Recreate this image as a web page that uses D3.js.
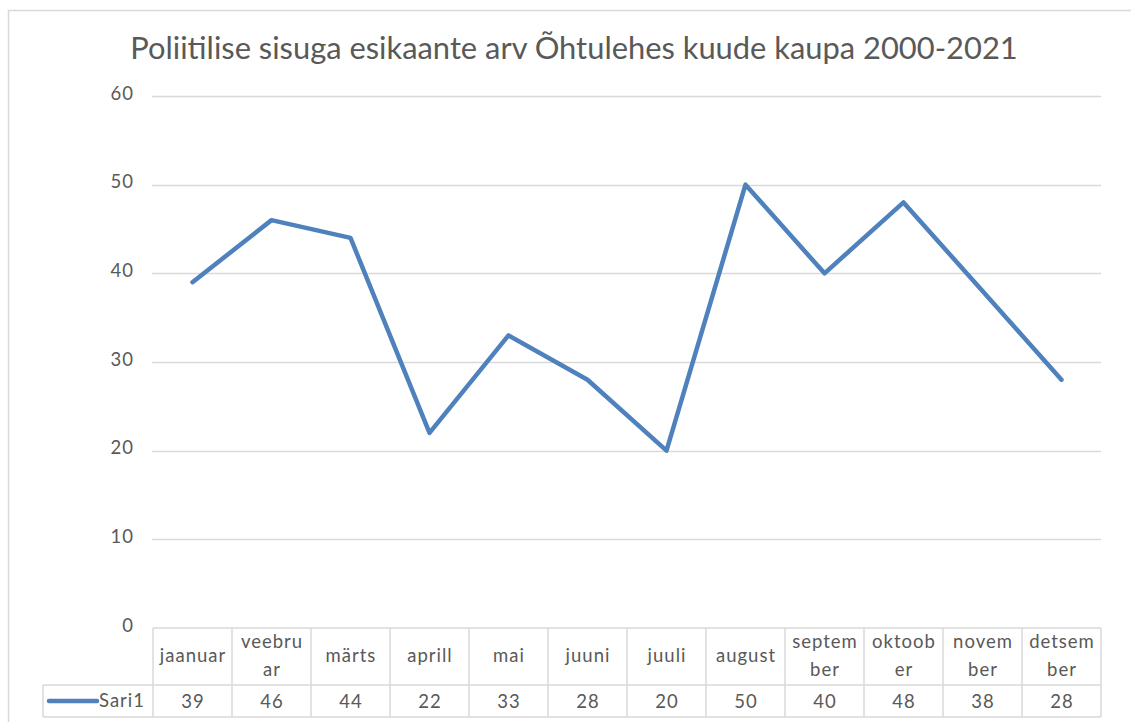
<!DOCTYPE html>
<html>
<head>
<meta charset="utf-8">
<script src="https://cdn.jsdelivr.net/npm/d3@7"></script>
<style>
  body { margin: 0; background: #fff; }
  svg text { font-family: Lato, "Open Sans", sans-serif; fill: #595959; }
  svg text.lbl { letter-spacing: 1px; }
</style>
</head>
<body>
<svg id="chart" width="1131" height="722"></svg>
<script>
// data
const months = ['jaanuar', 'veebruar', 'märts', 'aprill', 'mai', 'juuni',
                'juuli', 'august', 'september', 'oktoober', 'november', 'detsember'];
// Excel wraps the narrow cells mid-word
const monthLines = [['jaanuar'], ['veebru', 'ar'], ['märts'], ['aprill'], ['mai'], ['juuni'],
                    ['juuli'], ['august'], ['septem', 'ber'], ['oktoob', 'er'], ['novem', 'ber'], ['detsem', 'ber']];
const values = [39, 46, 44, 22, 33, 28, 20, 50, 40, 48, 38, 28];
const yTicks = [0, 10, 20, 30, 40, 50, 60];
const seriesName = 'Sari1';
const title = 'Poliitilise sisuga esikaante arv Õhtulehes kuude kaupa 2000-2021';

const svg = d3.select('#chart');
const grid = '#d9d9d9';
const blue = '#4f81bd';
const fs = '18.5px';

// plot area
const plotL = 153, plotR = 1101, plotT = 96, plotB = 628;
const rowCat = 685, rowVal = 717, legendLeft = 43;

const x = d3.scaleBand().domain(months).range([plotL, plotR]);
const y = d3.scaleLinear().domain([0, 60]).range([plotB, plotT]);

// outer chart frame (cropped on the right and bottom)
svg.append('path')
  .attr('d', `M8.5,722 V10.5 H1131`)
  .attr('fill', 'none')
  .attr('stroke', grid)
  .attr('stroke-width', 1.5);

// title, fitted to the width it has in the picture
let t = svg.append('text')
  .attr('x', 574)
  .attr('y', 59)
  .attr('text-anchor', 'middle')
  .style('font-size', '26px')
  .text(title);
let w = t.node().getComputedTextLength();
t.style('font-size', (26 * 888 / w) + 'px');

// gridlines
svg.append('g')
  .selectAll('line')
  .data(yTicks.filter(d => d > 0))
  .join('line')
  .attr('x1', plotL - 1).attr('x2', plotR)
  .attr('y1', d => Math.round(y(d)) + 0.5).attr('y2', d => Math.round(y(d)) + 0.5)
  .attr('stroke', grid)
  .attr('stroke-width', 1.3);

// y tick labels
svg.append('g')
  .selectAll('text')
  .data(yTicks)
  .join('text')
  .classed('lbl', true)
  .attr('x', 134)
  .attr('y', d => y(d) - 1)
  .attr('text-anchor', 'end')
  .attr('dominant-baseline', 'middle')
  .style('font-size', fs)
  .text(d => d);

// data table
const table = svg.append('g').attr('stroke', grid).attr('stroke-width', 1.5).attr('fill', 'none');
table.append('line').attr('x1', plotL).attr('x2', plotR).attr('y1', plotB).attr('y2', plotB);
table.append('line').attr('x1', legendLeft).attr('x2', plotR).attr('y1', rowCat).attr('y2', rowCat);
table.append('line').attr('x1', legendLeft).attr('x2', plotR).attr('y1', rowVal).attr('y2', rowVal);
table.append('line').attr('x1', legendLeft).attr('x2', legendLeft).attr('y1', rowCat).attr('y2', rowVal);
table.selectAll('.vcol')
  .data(months.concat(['end']))
  .join('line')
  .attr('x1', (d, i) => plotL + i * x.bandwidth())
  .attr('x2', (d, i) => plotL + i * x.bandwidth())
  .attr('y1', plotB).attr('y2', rowVal);

// category labels
const cats = svg.append('g').style('font-size', fs);
months.forEach((m, i) => {
  const lines = monthLines[i];
  const cx = x(m) + x.bandwidth() / 2 + 0.5;
  const cy = (plotB + rowCat) / 2 + 1;
  lines.forEach((ln, j) => {
    cats.append('text')
      .classed('lbl', true)
      .attr('x', cx)
      .attr('y', cy + (j - (lines.length - 1) / 2) * 28)
      .attr('text-anchor', 'middle')
      .attr('dominant-baseline', 'middle')
      .text(ln);
  });
});

// values row
svg.append('g')
  .selectAll('text')
  .data(values)
  .join('text')
  .classed('lbl', true)
  .attr('x', (d, i) => x(months[i]) + x.bandwidth() / 2 + 0.5)
  .attr('y', (rowCat + rowVal) / 2 + 2)
  .attr('text-anchor', 'middle')
  .attr('dominant-baseline', 'middle')
  .style('font-size', fs)
  .text(d => d);

// legend key in table
svg.append('line')
  .attr('x1', 49).attr('x2', 97)
  .attr('y1', 701).attr('y2', 701)
  .attr('stroke', blue)
  .attr('stroke-width', 4.5)
  .attr('stroke-linecap', 'round');
svg.append('text')
  .classed('lbl', true)
  .attr('x', 99)
  .attr('y', 702)
  .attr('dominant-baseline', 'middle')
  .style('font-size', fs)
  .text(seriesName);

// the series line
const line = d3.line()
  .x((d, i) => x(months[i]) + x.bandwidth() / 2)
  .y(d => y(d));

svg.append('path')
  .datum(values)
  .attr('d', line)
  .attr('fill', 'none')
  .attr('stroke', blue)
  .attr('stroke-width', 4.5)
  .attr('stroke-linejoin', 'round')
  .attr('stroke-linecap', 'round');
</script>
</body>
</html>
